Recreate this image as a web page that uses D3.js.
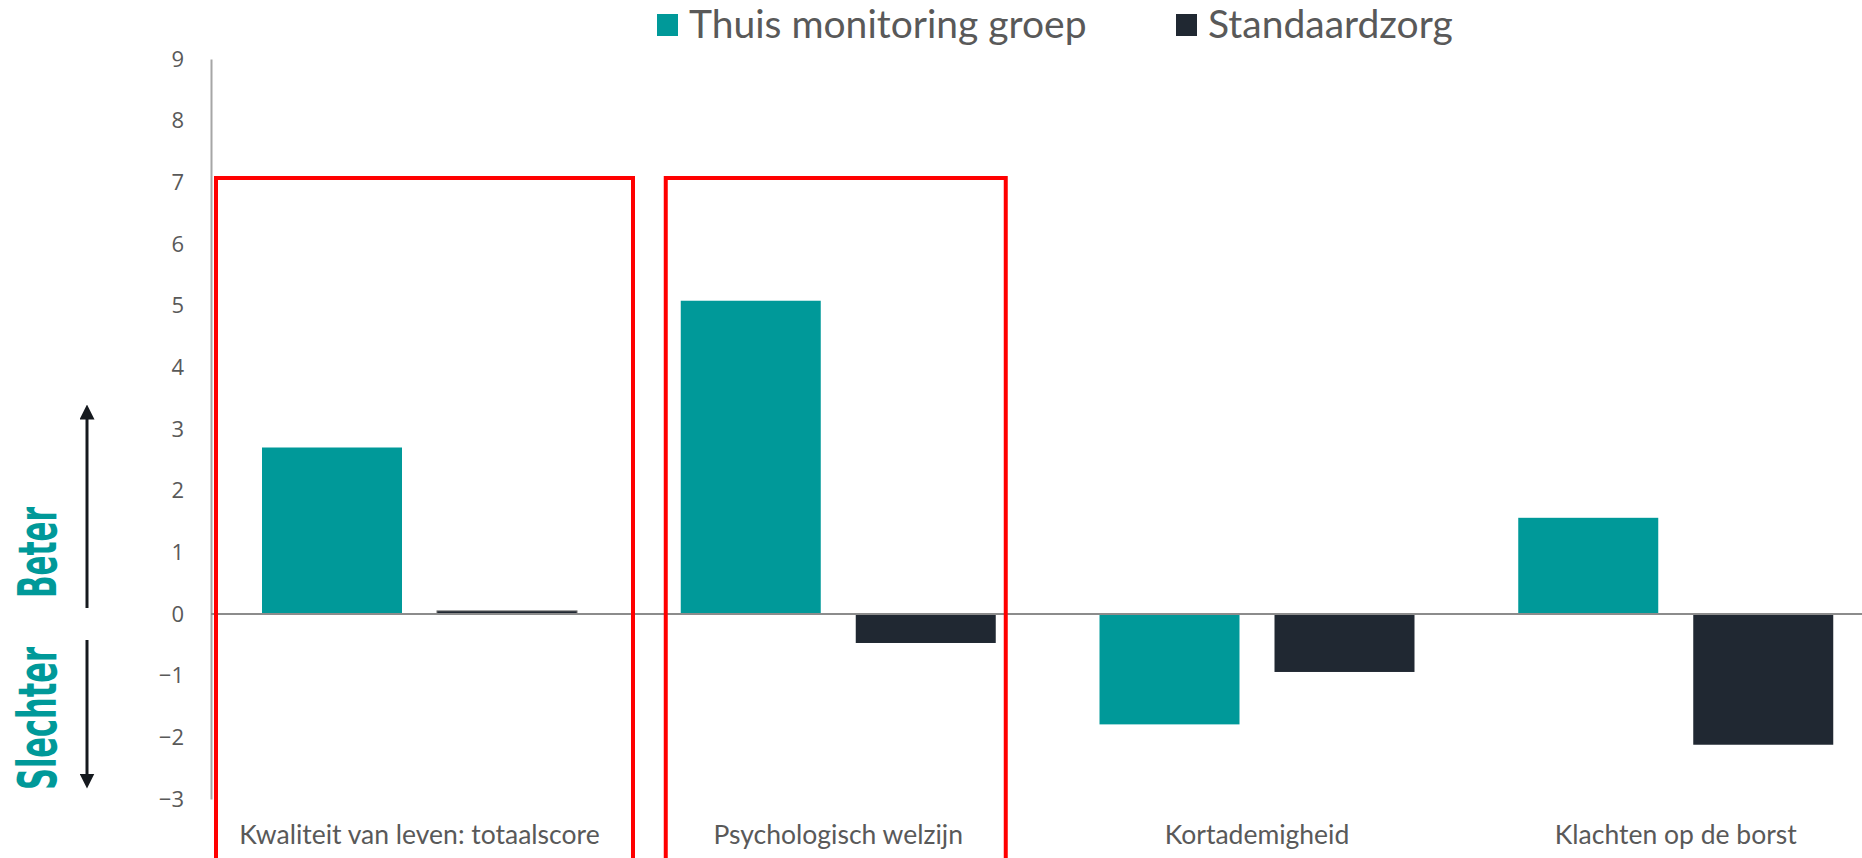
<!DOCTYPE html>
<html>
<head>
<meta charset="utf-8">
<script src="https://cdn.jsdelivr.net/npm/d3@7"></script>
<style>
  html, body { margin: 0; padding: 0; background: #fff; }
  svg { display: block; }
</style>
</head>
<body>
<script>
// chart values
const categories = ['Kwaliteit van leven: totaalscore', 'Psychologisch welzijn', 'Kortademigheid', 'Klachten op de borst'];
const seriesNames = ['Thuis monitoring groep', 'Standaardzorg'];
const thuisValues = [2.7, 5.08, -1.79, 1.56];
const standaardValues = [0.05, -0.47, -0.94, -2.12];
const yTicks = [-3, -2, -1, 0, 1, 2, 3, 4, 5, 6, 7, 8, 9];
const highlighted = ['Kwaliteit van leven: totaalscore', 'Psychologisch welzijn'];

const W = 1862, H = 858;
const teal = '#009999', dark = '#202832', grey = '#595959';

const svg = d3.select('body').append('svg')
    .attr('width', W)
    .attr('height', H);

svg.append('rect').attr('width', W).attr('height', H).attr('fill', 'white');

const y = d3.scaleLinear().domain([-3, 9]).range([799, 59]);

const x0 = d3.scaleBand()
    .domain(categories)
    .range([211, 1886]);

const x1 = d3.scaleBand()
    .domain(seriesNames)
    .range([51, 366])
    .paddingInner(0.2);

const color = d3.scaleOrdinal().domain(seriesNames).range([teal, dark]);

const rows = categories.map((c, i) => ({
    cat: c,
    values: [
        { key: seriesNames[0], value: thuisValues[i] },
        { key: seriesNames[1], value: standaardValues[i] }
    ]
}));

// y axis
svg.append('g')
    .attr('transform', 'translate(211,0)')
    .call(d3.axisLeft(y).tickValues(yTicks).tickSize(0).tickPadding(27).tickFormat(d3.format('d')))
    .call(g => g.select('.domain').attr('stroke', '#a6a6a6').attr('stroke-width', 2))
    .selectAll('text')
    .style('font-family', '"Open Sans", sans-serif')
    .style('font-size', '22px')
    .attr('fill', grey);

// bars
svg.append('g').selectAll('g')
    .data(rows)
    .join('g')
    .attr('transform', d => `translate(${x0(d.cat)},0)`)
    .selectAll('rect')
    .data(d => d.values)
    .join('rect')
    .attr('x', d => x1(d.key))
    .attr('width', x1.bandwidth())
    .attr('y', d => y(Math.max(0, d.value)))
    .attr('height', d => Math.abs(y(d.value) - y(0)))
    .attr('fill', d => color(d.key))
    .attr('stroke', d => d.value > 0 && d.value < 0.1 ? '#6b6b6b' : 'none')
    .attr('stroke-width', 1);

// zero line
svg.append('line')
    .attr('x1', 211).attr('x2', W)
    .attr('y1', y(0)).attr('y2', y(0))
    .attr('stroke', '#8c8c8c')
    .attr('stroke-width', 2);

// red highlight boxes
const boxEdges = [[5, 422], [36, 376]];
highlighted.forEach((c, i) => {
    const left = x0(c) + boxEdges[i][0];
    const right = x0(c) + boxEdges[i][1];
    svg.append('path')
        .attr('d', `M${left},${H + 10}V${y(7.07)}H${right}V${H + 10}`)
        .attr('fill', 'none')
        .attr('stroke', '#ff0000')
        .attr('stroke-width', 4);
});

// category labels
svg.append('g').selectAll('text')
    .data(categories)
    .join('text')
    .attr('x', d => x0(d) + (x1.range()[0] + x1.range()[1]) / 2)
    .attr('y', 844)
    .attr('text-anchor', 'middle')
    .style('font-family', 'Lato, sans-serif')
    .style('font-size', '26.5px')
    .attr('fill', grey)
    .text(d => d);

// legend
const legendX = [657, 1176];
const legend = svg.append('g').selectAll('g')
    .data(seriesNames)
    .join('g')
    .attr('transform', (d, i) => `translate(${legendX[i]},0)`);

legend.append('rect')
    .attr('x', 0).attr('y', 14)
    .attr('width', 21).attr('height', 22)
    .attr('fill', d => color(d));

legend.append('text')
    .attr('x', 32)
    .attr('y', 38)
    .style('font-family', 'Lato, sans-serif')
    .style('font-size', '39px')
    .attr('fill', grey)
    .text(d => d);

// better / worse side labels
const sideLabels = [
    { text: 'Beter', y0: 598, y1: 507 },
    { text: 'Slechter', y0: 790, y1: 647 }
];
sideLabels.forEach(s => {
    svg.append('text')
        .attr('transform', `translate(56,${s.y0}) rotate(-90)`)
        .attr('textLength', s.y0 - s.y1)
        .attr('lengthAdjust', 'spacingAndGlyphs')
        .style('font-family', '"DejaVu Sans Condensed", "Liberation Sans Narrow", sans-serif')
        .style('font-weight', 'bold')
        .style('font-size', '54px')
        .attr('fill', teal)
        .text(s.text);
});

// arrows
const defs = svg.append('defs');
defs.append('marker')
    .attr('id', 'head')
    .attr('viewBox', '0 0 10 10')
    .attr('refX', 5).attr('refY', 5)
    .attr('markerWidth', 5).attr('markerHeight', 5)
    .attr('orient', 'auto')
    .append('path')
    .attr('d', 'M0,0L10,5L0,10Z')
    .attr('fill', '#15191e');

[[608, 412], [640, 781]].forEach(a => {
    svg.append('line')
        .attr('x1', 87).attr('x2', 87)
        .attr('y1', a[0]).attr('y2', a[1])
        .attr('stroke', '#15191e')
        .attr('stroke-width', 3)
        .attr('marker-end', 'url(#head)');
});
</script>
</body>
</html>
